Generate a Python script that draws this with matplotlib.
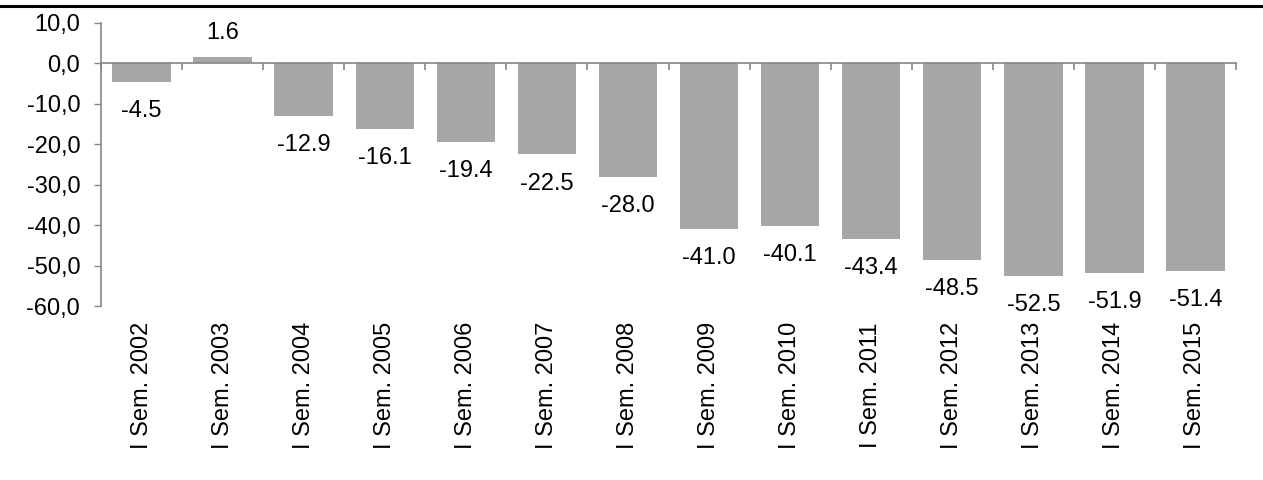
import matplotlib
matplotlib.use("Agg")
import matplotlib.pyplot as plt
from matplotlib.lines import Line2D
import matplotlib.transforms as mtransforms
from matplotlib.ticker import FuncFormatter, FixedLocator

plt.rcParams['font.family'] = ['Liberation Sans', 'DejaVu Sans']

categories = ["I Sem. 2002", "I Sem. 2003", "I Sem. 2004", "I Sem. 2005", "I Sem. 2006",
              "I Sem. 2007", "I Sem. 2008", "I Sem. 2009", "I Sem. 2010", "I Sem. 2011",
              "I Sem. 2012", "I Sem. 2013", "I Sem. 2014", "I Sem. 2015"]
values = [-4.5, 1.6, -12.9, -16.1, -19.4, -22.5, -28.0, -41.0, -40.1, -43.4,
          -48.5, -52.5, -51.9, -51.4]
y_ticks = [10, 0, -10, -20, -30, -40, -50, -60]

FS = 17

fig = plt.figure(figsize=(12.63, 4.8), dpi=100)
ax = fig.add_axes([101/1263, 1-306/480, (1236-101)/1263, (306-23)/480])

n = len(categories)
x = list(range(n))
bar_color = '#a6a6a6'
spine_color = '#868686'
ax.bar(x, values, width=0.72, color=bar_color, edgecolor='none', zorder=2)

ax.set_xlim(-0.5, n - 0.5)
ax.set_ylim(-60, 10)
ax.yaxis.set_major_locator(FixedLocator(y_ticks))
ax.yaxis.set_major_formatter(FuncFormatter(lambda v, p: f"{v:.1f}".replace('.', ',')))
ax.tick_params(axis='y', direction='out', length=5, width=1, color=spine_color,
               labelsize=FS, pad=10)

for s in ['top', 'right']:
    ax.spines[s].set_visible(False)
ax.spines['left'].set_color(spine_color)
ax.spines['bottom'].set_position(('data', 0))
ax.spines['bottom'].set_color(spine_color)
ax.spines['bottom'].set_linewidth(1.2)
ax.spines['left'].set_linewidth(1.2)
ax.set_xticks([i + 0.5 for i in range(-1, n)])
ax.set_xticklabels([])
ax.tick_params(axis='x', direction='out', length=5, width=1.2, color=spine_color)

trans = mtransforms.blended_transform_factory(ax.transData, ax.transAxes)
for xi, lab in zip(x, categories):
    ax.text(xi, -16/283, lab, rotation=90, ha='center', va='top', fontsize=FS,
            transform=trans)

for xi, v in zip(x, values):
    off = 17 if v >= 0 else -21
    ax.annotate(f"{v:.1f}", (xi, v), xytext=(0, off), textcoords='offset points',
                ha='center', va='center', fontsize=FS)

fig.add_artist(Line2D([0, 1], [1-6/480, 1-6/480], color='black', linewidth=2.2,
                      transform=fig.transFigure))

fig.savefig("out.png", dpi=100)
